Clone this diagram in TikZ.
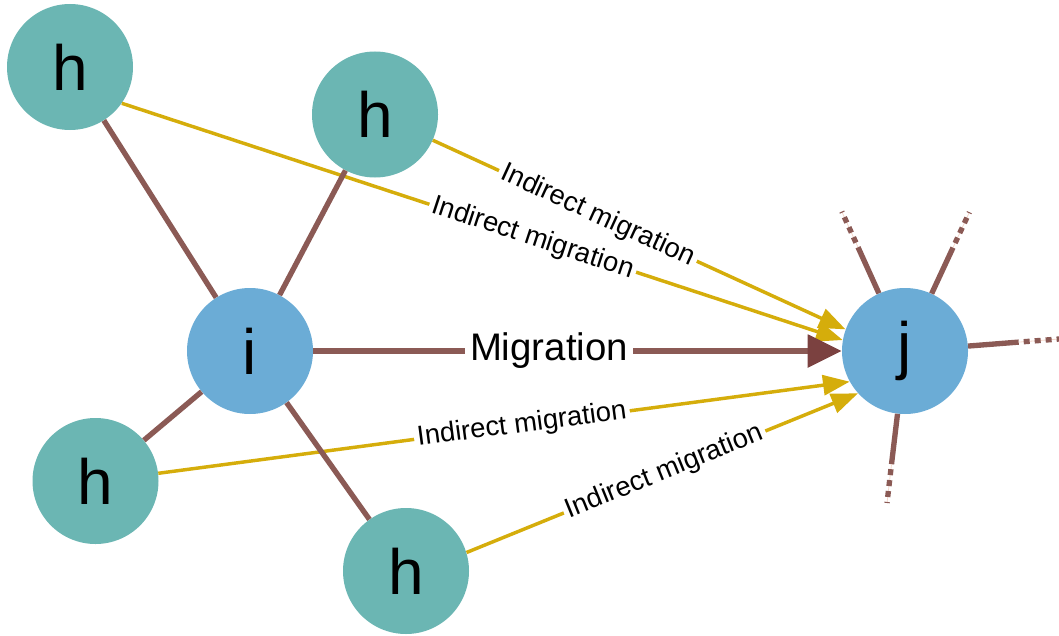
\documentclass[tikz,border=0pt]{standalone}
\usepackage{fontspec}
\setmainfont{Liberation Sans}
\usetikzlibrary{arrows.meta}

\definecolor{hnode}{HTML}{6BB6B3}
\definecolor{ijnode}{HTML}{6BACD6}
\definecolor{link}{HTML}{8B5A55}
\definecolor{migtip}{HTML}{7B4140}
\definecolor{indirect}{HTML}{D5AD0B}
\definecolor{stubhint}{HTML}{F4D6CA}

\begin{document}
\begin{tikzpicture}[x=0.75pt,y=-0.75pt,
  vertex/.style={circle, draw=none, minimum size=94.5pt, inner sep=0pt,
                 font=\fontsize{48}{48}\selectfont},
  hvertex/.style={vertex, fill=hnode},
  ijvertex/.style={vertex, fill=ijnode},
  tie/.style={draw=link, line width=4pt},
  stubdots/.style={draw=link, line width=4pt, dash pattern=on 4.5pt off 3.75pt},
  stubline/.style={draw=stubhint, line width=0.6pt},
  migration/.style={draw=link, line width=4pt,
                    -{Triangle[length=25.5pt,width=24pt,color=migtip]}},
  indirect/.style={draw=indirect, line width=2.6pt,
                   -{Triangle[length=20pt,width=15pt]}},
  ilabel/.style={fill=white, inner sep=2.5pt, sloped,
                 font=\fontsize{20.6}{24}\selectfont},
  mlabel/.style={fill=white, inner sep=4pt,
                 font=\fontsize{28.8}{32}\selectfont},
]
\useasboundingbox (0,0) rectangle (1059,635);

% nodes
\node[hvertex]  (h1) at (70,67)     {h};
\node[hvertex]  (h2) at (375,114.5) {h};
\node[ijvertex] (i)  at (250,351)   {i};
\node[hvertex]  (h3) at (95.5,481)  {h};
\node[hvertex]  (h4) at (406,571)   {h};
\node[ijvertex] (j)  at (905,351)   {j};

% end points of the stubs leaving j
\coordinate (ulA) at (858,247.2);
\coordinate (ulB) at (841.8,211.6);
\coordinate (urA) at (953,247.6);
\coordinate (urB) at (969.4,212.2);
\coordinate (rA)  at (1018.7,342.1);
\coordinate (rB)  at (1059,339);
\coordinate (bA)  at (891.5,464.2);
\coordinate (bB)  at (887,503);

% indirect migration towards j
\draw[indirect] (h2.-24) -- node[ilabel, pos=0.40] {Indirect migration} (j.160);
\draw[indirect] (h1.-35) -- node[ilabel, pos=0.57] {Indirect migration} (j.170);
\draw[indirect] (h3.7)   -- node[ilabel, pos=0.526] {Indirect migration} (j.209);
\draw[indirect] (h4.17)  -- node[ilabel, pos=0.506] {Indirect migration} (j.222);

% ties of i
\draw[tie] (h1) -- (i);
\draw[tie] (h2) -- (i);
\draw[tie] (h3) -- (i);
\draw[tie] (h4) -- (i);

% direct migration
\draw[migration] (i.0) -- node[mlabel, pos=0.446] {Migration} (j.180);

% stubs of j: solid part, then dotted continuation
\foreach \a/\b in {ulA/ulB, urA/urB, rA/rB, bA/bB} {
  \draw[tie] (j) -- (\a);
  \draw[stubline] (\a) -- (\b);
  \draw[stubdots, dash phase=-3.75pt] (\a) -- (\b);
}
\end{tikzpicture}
\end{document}
